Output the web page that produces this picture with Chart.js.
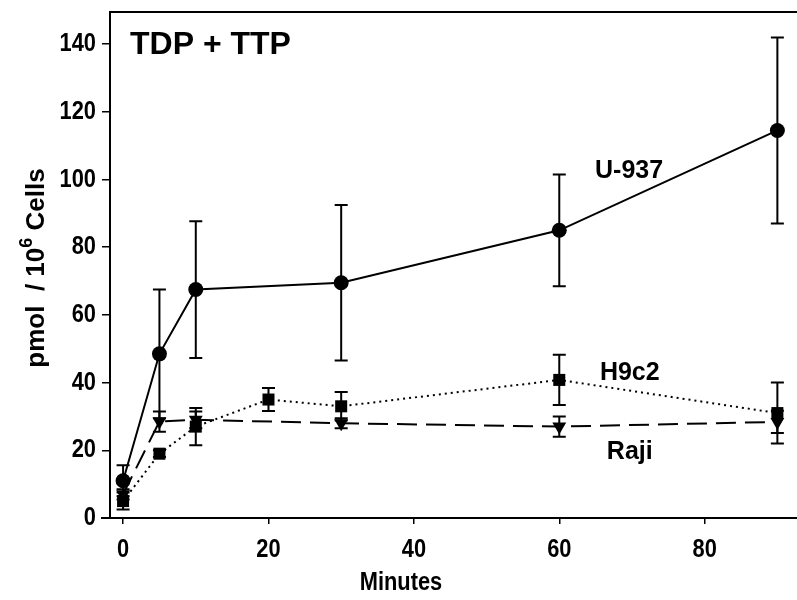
<!DOCTYPE html>
<html>
<head>
<script src="https://cdn.jsdelivr.net/npm/chart.js@4.4.0/dist/chart.umd.min.js"></script>
<style>body{margin:0;background:#fff}</style>
</head>
<body>
<canvas id="chart" width="797" height="600"></canvas>
<script>
const minutes = [0, 5, 10, 20, 30, 60, 90];
const u937 = [11, 48.5, 67.5, null, 69.5, 85, 114.5];
const u937Sd = [4.6, 19, 20.2, null, 23, 16.5, 27.5];
const h9c2 = [5, 19, 27, 35, 33, 40.8, 31];
const h9c2Sd = [2.5, 1, 5.5, 3.4, 4.2, 7.4, 9];
const raji = [7, 28.5, 29, null, 28, 27, 28.4];
const rajiSd = [1.5, 3, 2.5, null, 1.5, 3, 3.3];
const xTickLabels = [0, 20, 40, 60, 80];
const yTickLabels = [0, 20, 40, 60, 80, 100, 120, 140];

const FONT = "'Liberation Sans', Arial, sans-serif";
const NARROW = 0.84; // fake a condensed face by squeezing the text

function points(vals, sds) {
  const out = [];
  vals.forEach((v, i) => {
    if (v !== null) out.push({x: minutes[i], y: v, sd: sds[i]});
  });
  return out;
}

function narrowText(ctx, text, x, y, align) {
  ctx.save();
  ctx.translate(x, y);
  ctx.scale(NARROW, 1);
  ctx.textAlign = align;
  ctx.fillText(text, 0, 0);
  ctx.restore();
}

// error bars under the markers
const errorBars = {
  id: 'errorBars',
  beforeDatasetsDraw(chart) {
    const ctx = chart.ctx;
    const xs = chart.scales.x, ys = chart.scales.y;
    ctx.save();
    ctx.strokeStyle = '#000';
    ctx.lineWidth = 2;
    chart.data.datasets.forEach(ds => {
      ds.data.forEach(p => {
        const px = xs.getPixelForValue(p.x);
        const top = ys.getPixelForValue(p.y + p.sd);
        const bot = ys.getPixelForValue(Math.max(p.y - p.sd, 0));
        ctx.beginPath();
        ctx.moveTo(px, top); ctx.lineTo(px, bot);
        ctx.moveTo(px - 6.5, top); ctx.lineTo(px + 6.5, top);
        ctx.moveTo(px - 6.5, bot); ctx.lineTo(px + 6.5, bot);
        ctx.stroke();
      });
    });
    ctx.restore();
  }
};

// frame, tick labels, titles and series labels
const decorations = {
  id: 'decorations',
  afterDraw(chart) {
    const ctx = chart.ctx;
    const a = chart.chartArea;
    const xs = chart.scales.x, ys = chart.scales.y;
    ctx.save();
    ctx.strokeStyle = '#000';
    ctx.lineWidth = 2;
    ctx.beginPath();
    ctx.moveTo(a.left, a.top); ctx.lineTo(a.right, a.top);
    ctx.moveTo(a.left - 9, a.bottom); ctx.lineTo(a.left, a.bottom);
    ctx.stroke();

    ctx.fillStyle = '#000';
    ctx.textBaseline = 'middle';

    // tick labels
    ctx.font = 'bold 26px ' + FONT;
    xs.ticks.forEach(t => narrowText(ctx, String(t.value), xs.getPixelForValue(t.value), a.bottom + 32, 'center'));
    ys.ticks.forEach(t => narrowText(ctx, String(t.value), a.left - 14, ys.getPixelForValue(t.value), 'right'));

    // axis titles
    narrowText(ctx, 'Minutes', 401, 583, 'center');

    ctx.textAlign = 'left';
    ctx.font = 'bold 32px ' + FONT;
    ctx.fillText('TDP + TTP', a.left + 20, a.top + 33);

    ctx.textAlign = 'center';
    ctx.font = 'bold 25px ' + FONT;
    ctx.fillText('U-937', xs.getPixelForValue(69.6), ys.getPixelForValue(102.5));
    ctx.fillText('H9c2', xs.getPixelForValue(69.7), ys.getPixelForValue(42.8));
    ctx.fillText('Raji', xs.getPixelForValue(69.7), ys.getPixelForValue(19.5));

    // y title with superscript
    ctx.translate(37, 268);
    ctx.rotate(-Math.PI / 2);
    const big = 'bold 26px ' + FONT, small = 'bold 18px ' + FONT;
    const p1 = 'pmol  / 10', p2 = '6', p3 = ' Cells';
    ctx.font = big; const w1 = ctx.measureText(p1).width, w3 = ctx.measureText(p3).width;
    ctx.font = small; const w2 = ctx.measureText(p2).width;
    const x0 = -(w1 + w2 + w3) / 2;
    ctx.textAlign = 'left';
    ctx.font = big; ctx.fillText(p1, x0, 0);
    ctx.font = small; ctx.fillText(p2, x0 + w1, -10);
    ctx.font = big; ctx.fillText(p3, x0 + w1 + w2, 0);
    ctx.restore();
  }
};

new Chart(document.getElementById('chart'), {
  type: 'line',
  data: {
    datasets: [
      {
        label: 'U-937',
        data: points(u937, u937Sd),
        borderColor: '#000', backgroundColor: '#000', borderWidth: 2,
        pointStyle: 'circle', pointRadius: 7.5, pointBorderWidth: 0
      },
      {
        label: 'H9c2',
        data: points(h9c2, h9c2Sd),
        borderColor: '#000', backgroundColor: '#000', borderWidth: 2,
        borderDash: [2, 4],
        pointStyle: 'rect', pointRadius: 8.5, pointBorderWidth: 0
      },
      {
        label: 'Raji',
        data: points(raji, rajiSd),
        borderColor: '#000', backgroundColor: '#000', borderWidth: 2,
        borderDash: [20, 9],
        pointStyle: 'triangle', pointRotation: 180, pointRadius: 8, pointBorderWidth: 0
      }
    ]
  },
  options: {
    responsive: false,
    animation: false,
    layout: {autoPadding: false, padding: {top: 12, left: 0, right: 0, bottom: 0}},
    plugins: {legend: {display: false}, tooltip: {enabled: false}},
    scales: {
      x: {
        type: 'linear',
        min: -1.8, max: 92.7,
        afterBuildTicks: s => { s.ticks = xTickLabels.map(v => ({value: v})); },
        afterFit: s => { s.height = 82; s.paddingLeft = 0; s.paddingRight = 0; },
        grid: {drawOnChartArea: false, drawTicks: true, tickLength: 6, color: '#000', lineWidth: 1.5},
        border: {display: true, color: '#000', width: 2},
        ticks: {display: false}
      },
      y: {
        min: 0, max: 149.5,
        afterBuildTicks: s => { s.ticks = yTickLabels.map(v => ({value: v})); },
        afterFit: s => { s.width = 110; s.paddingTop = 0; s.paddingBottom = 0; },
        grid: {drawOnChartArea: false, drawTicks: true, tickLength: 8, color: '#000', lineWidth: 1.5},
        border: {display: true, color: '#000', width: 2},
        ticks: {display: false}
      }
    }
  },
  plugins: [errorBars, decorations]
});
</script>
</body>
</html>
